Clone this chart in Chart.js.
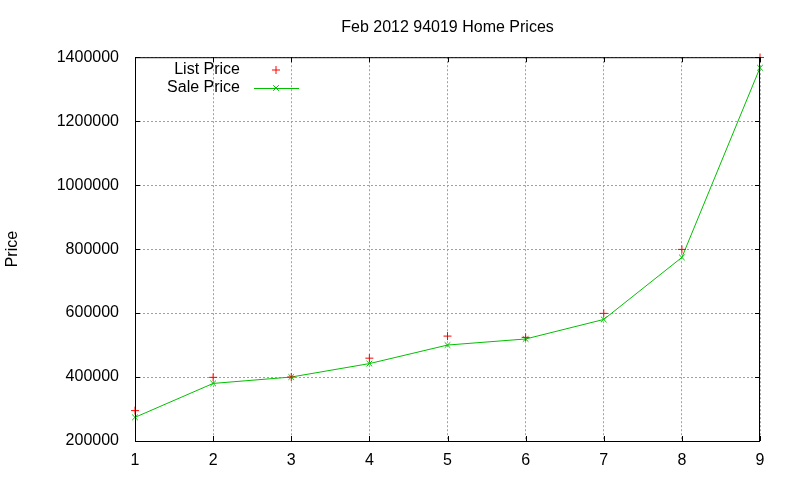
<!DOCTYPE html>
<html>
<head>
<meta charset="utf-8">
<script src="https://cdn.jsdelivr.net/npm/chart.js@4"></script>
<style>
  html, body { margin: 0; padding: 0; background: #fff; }
  #wrap { width: 800px; height: 480px; }
</style>
</head>
<body>
<div id="wrap"><canvas id="priceChart"></canvas></div>
<script>
// values
const months = [1, 2, 3, 4, 5, 6, 7, 8, 9];
const listPrice = [295000, 399000, 400000, 459000, 528000, 524000, 599000, 799000, 1399000];
const salePrice = [274000, 380000, 400000, 442000, 500000, 519000, 580000, 774000, 1367000];
const yTicks = [200000, 400000, 600000, 800000, 1000000, 1200000, 1400000];

const FONT = 'Liberation Sans, Arial, sans-serif';

function toPoints(xs, ys) {
  return xs.map((x, i) => ({ x: x, y: ys[i] }));
}

// gnuplot style box with inward ticks, plus the legend in the top-left
const framePlugin = {
  id: 'frame',
  afterDraw(chart) {
    const ctx = chart.ctx;
    const a = chart.chartArea;
    const xs = chart.scales.x, ys = chart.scales.y;
    ctx.save();
    ctx.strokeStyle = '#000';
    ctx.lineWidth = 1;
    ctx.setLineDash([]);
    ctx.strokeRect(a.left + 0.5, a.top + 0.5, a.right - a.left - 1, a.bottom - a.top);
    ctx.beginPath();
    yTicks.forEach(v => {
      const y = Math.round(ys.getPixelForValue(v)) + 0.5;
      ctx.moveTo(a.left, y); ctx.lineTo(a.left + 5, y);
      ctx.moveTo(a.right, y); ctx.lineTo(a.right - 5, y);
    });
    months.forEach(m => {
      const x = Math.round(xs.getPixelForValue(m)) + 0.5;
      ctx.moveTo(x, a.bottom); ctx.lineTo(x, a.bottom - 5);
      ctx.moveTo(x, a.top); ctx.lineTo(x, a.top + 5);
    });
    ctx.stroke();

    // legend
    const ds = chart.data.datasets;
    ctx.font = '16px ' + FONT;
    ctx.textAlign = 'right';
    ctx.textBaseline = 'middle';
    const rows = [70, 88];
    ds.forEach((d, i) => {
      const y = rows[i];
      ctx.fillStyle = '#000';
      ctx.fillText(d.label, 240, y);
      ctx.lineWidth = 1;
      if (d.showLine !== false) {
        ctx.strokeStyle = d.borderColor;
        ctx.beginPath();
        ctx.moveTo(254, y + 0.5); ctx.lineTo(299, y + 0.5);
        ctx.stroke();
      }
      ctx.strokeStyle = d.pointBorderColor;
      ctx.fillStyle = d.pointBorderColor;
      Chart.helpers.drawPoint(ctx, {
        pointStyle: d.pointStyle, radius: d.pointRadius, borderWidth: 1
      }, 276, y);
    });
    ctx.restore();
  }
};

window.onload = function () {
  const ctx = document.getElementById('priceChart').getContext('2d');

  new Chart(ctx, {
    type: 'scatter',
    data: {
      datasets: [{
        label: 'List Price',
        data: toPoints(months, listPrice),
        showLine: false,
        clip: false,
        pointStyle: 'cross',
        pointRadius: 4,
        pointBorderWidth: 1,
        pointBorderColor: '#ff0000',
        borderColor: '#ff0000',
        backgroundColor: '#ff0000'
      }, {
        label: 'Sale Price',
        data: toPoints(months, salePrice),
        showLine: true,
        clip: false,
        borderColor: '#00c000',
        borderWidth: 1,
        tension: 0,
        pointStyle: 'crossRot',
        pointRadius: 4,
        pointBorderWidth: 1,
        pointBorderColor: '#00c000',
        backgroundColor: '#00c000'
      }]
    },
    options: {
      responsive: true,
      maintainAspectRatio: false,
      animation: false,
      layout: { padding: { left: 0, right: 40, top: 0, bottom: 0 } },
      plugins: {
        legend: { display: false },
        tooltip: { enabled: false },
        title: {
          display: true,
          fullSize: false,
          text: 'Feb 2012 94019 Home Prices',
          color: '#000',
          font: { family: FONT, size: 16, weight: 'normal' },
          padding: { top: 18, bottom: 20 }
        }
      },
      scales: {
        x: {
          type: 'linear',
          min: 1,
          max: 9,
          afterFit(s) { s.height = 39; },
          ticks: {
            stepSize: 1,
            color: '#000',
            padding: 10,
            font: { family: FONT, size: 16 }
          },
          grid: { color: '#a0a0a0', drawTicks: false },
          border: { display: false, dash: [2, 2] }
        },
        y: {
          min: 200000,
          max: 1400000,
          afterFit(s) { s.width = 135; },
          afterBuildTicks(s) { s.ticks = yTicks.map(v => ({ value: v })); },
          ticks: {
            color: '#000',
            padding: 16,
            font: { family: FONT, size: 16 },
            callback: v => String(v)
          },
          title: {
            display: true,
            text: 'Price',
            color: '#000',
            font: { family: FONT, size: 16 },
            padding: { top: 3 }
          },
          grid: { color: '#a0a0a0', drawTicks: false },
          border: { display: false, dash: [2, 2] }
        }
      }
    },
    plugins: [framePlugin]
  });
};
</script>
</body>
</html>
